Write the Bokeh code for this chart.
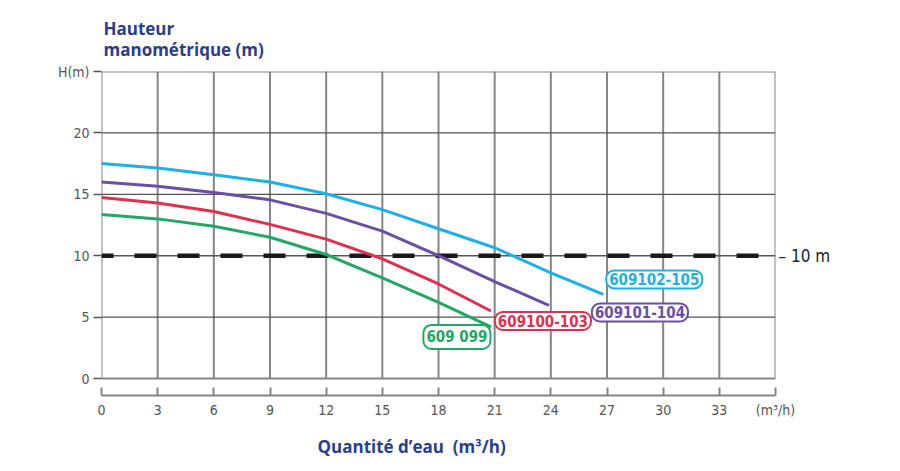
from bokeh.plotting import figure
from bokeh.models import Label, Range1d, FixedTicker, ColumnDataSource, LinearAxis, Title
from bokeh.embed import file_html
from bokeh.resources import INLINE

# ---- data ----
x_ticks = [0, 3, 6, 9, 12, 15, 18, 21, 24, 27, 30, 33, 36]
y_ticks = [0, 5, 10, 15, 20, 25]
x_tick_labels = {36: "(m³/h)"}
y_tick_labels = {25: "H(m)"}

ref_level = 10
ref_label = "–\u00a010 m"

series_names = ["609102-105", "609101-104", "609100-103", "609 099"]
series_colors = ["#1bb1e6", "#6a4fa6", "#e0304f", "#22a766"]

x_609102 = [0, 3, 6, 9, 12, 15, 18, 21, 24, 26.8]
y_609102 = [17.5, 17.15, 16.6, 16.0, 15.05, 13.75, 12.2, 10.65, 8.6, 6.85]

x_609101 = [0, 3, 6, 9, 12, 15, 18, 21, 23.9]
y_609101 = [16.0, 15.65, 15.15, 14.55, 13.45, 12.0, 10.0, 7.9, 5.95]

x_609100 = [0, 3, 6, 9, 12, 15, 18, 20.8]
y_609100 = [14.75, 14.3, 13.6, 12.55, 11.35, 9.75, 7.7, 5.5]

x_609099 = [0, 3, 6, 9, 12, 15, 18, 20.8]
y_609099 = [13.35, 13.0, 12.4, 11.5, 10.1, 8.2, 6.2, 4.2]

xs_all = [x_609102, x_609101, x_609100, x_609099]
ys_all = [y_609102, y_609101, y_609100, y_609099]

y_title = "Hauteur\nmanométrique (m)"
x_title = "Quantité d’eau \u00a0(m³/h)"

# ---- figure ----
X_MAX = x_ticks[-1]
Y_MAX = y_ticks[-1]
Y_MIN = -1.38

p = figure(frame_width=674, frame_height=324,
           x_range=Range1d(0, X_MAX), y_range=Range1d(Y_MIN, Y_MAX),
           output_backend="svg", toolbar_location=None,
           min_border_left=101, min_border_top=71, min_border_bottom=70,
           min_border_right=70)
p.outline_line_color = None
p.xgrid.visible = False
p.ygrid.visible = False
p.background_fill_color = "white"
p.border_fill_color = "white"

grid_gray = "#858585"
text_gray = "#555555"
FONT_N = "DejaVu Sans Condensed"
FONT_T = "Open Sans"
title_blue = "#2b3d8c"

# grid: vertical lines
vs = ColumnDataSource(dict(x0=x_ticks, y0=[0] * len(x_ticks),
                           x1=x_ticks, y1=[Y_MAX] * len(x_ticks)))
p.segment("x0", "y0", "x1", "y1", source=vs, line_color=grid_gray, line_width=2)
# horizontal lines
inner = [t for t in y_ticks if t not in (0, Y_MAX)]
hs = ColumnDataSource(dict(x0=[0] * len(inner), y0=inner,
                           x1=[X_MAX] * len(inner), y1=inner))
p.segment("x0", "y0", "x1", "y1", source=hs, line_color="#555555", line_width=1.3)
border = [0, Y_MAX]
bs = ColumnDataSource(dict(x0=[0] * 2, y0=border, x1=[X_MAX] * 2, y1=border))
p.segment("x0", "y0", "x1", "y1", source=bs, line_color=grid_gray, line_width=2)

# reference dashed line
p.line([0, X_MAX], [ref_level, ref_level], line_color="#1a1a1a", line_width=4.5,
       line_dash="22 21", line_dash_offset=10)

# curves
for xs, ys, c in zip(xs_all, ys_all, series_colors):
    p.line(xs, ys, line_color=c, line_width=3)

# axes
xa = p.xaxis[0]
xa.ticker = FixedTicker(ticks=x_ticks)
xa.major_label_overrides = x_tick_labels
xa.bounds = (0, X_MAX)
xa.axis_line_color = grid_gray
xa.axis_line_width = 2
xa.major_tick_in = 8
xa.major_tick_out = 0
xa.major_tick_line_color = grid_gray
xa.major_tick_line_width = 2
xa.minor_tick_line_color = None
xa.major_label_text_font = FONT_N
xa.major_label_text_font_size = "14px"
xa.major_label_text_color = text_gray
xa.major_label_standoff = 6

ya = p.yaxis[0]
ya.ticker = FixedTicker(ticks=y_ticks)
ya.major_label_overrides = y_tick_labels
ya.bounds = (0, Y_MAX)
ya.axis_line_color = None
ya.major_tick_in = 0
ya.major_tick_out = 8
ya.major_tick_line_color = "#555555"
ya.major_tick_line_width = 1.3
ya.minor_tick_line_color = None
ya.major_label_text_font = FONT_N
ya.major_label_text_font_size = "14px"
ya.major_label_text_color = text_gray
ya.major_label_standoff = 4

# right axis carrying the reference-level label
ra = LinearAxis(ticker=FixedTicker(ticks=[ref_level]),
                major_label_overrides={ref_level: ref_label},
                axis_line_color=None, major_tick_line_color=None,
                major_tick_in=0, major_tick_out=0,
                minor_tick_line_color=None, major_label_standoff=3,
                major_label_text_font=FONT_N, major_label_text_font_size="17px",
                major_label_text_color="#222222")
p.add_layout(ra, "right")

# curve labels, anchored at each curve's end point
offsets = [(51, 15), (91, -7), (52, -10), (-34, -10)]
for name, c, xs, ys, (ox, oy) in zip(series_names, series_colors, xs_all, ys_all, offsets):
    p.add_layout(Label(x=xs[-1], y=ys[-1], x_offset=ox, y_offset=oy, text=name,
                       text_align="center", text_baseline="middle",
                       text_font=FONT_N, text_font_style="bold",
                       text_font_size="15px", text_color=c,
                       background_fill_color="white", border_line_color=c,
                       border_line_width=2, border_radius=8, padding=3))

# titles
p.add_layout(Title(text=y_title, align="left", offset=2, standoff=20,
                   text_font=FONT_T, text_font_style="bold", text_font_size="17px",
                   text_color=title_blue, text_line_height=0.95), "above")
p.add_layout(Title(text=x_title, align="left", offset=216, standoff=25,
                   text_font=FONT_T, text_font_style="bold", text_font_size="17px",
                   text_color=title_blue), "below")

open("out.html", "w").write(file_html(p, INLINE))
